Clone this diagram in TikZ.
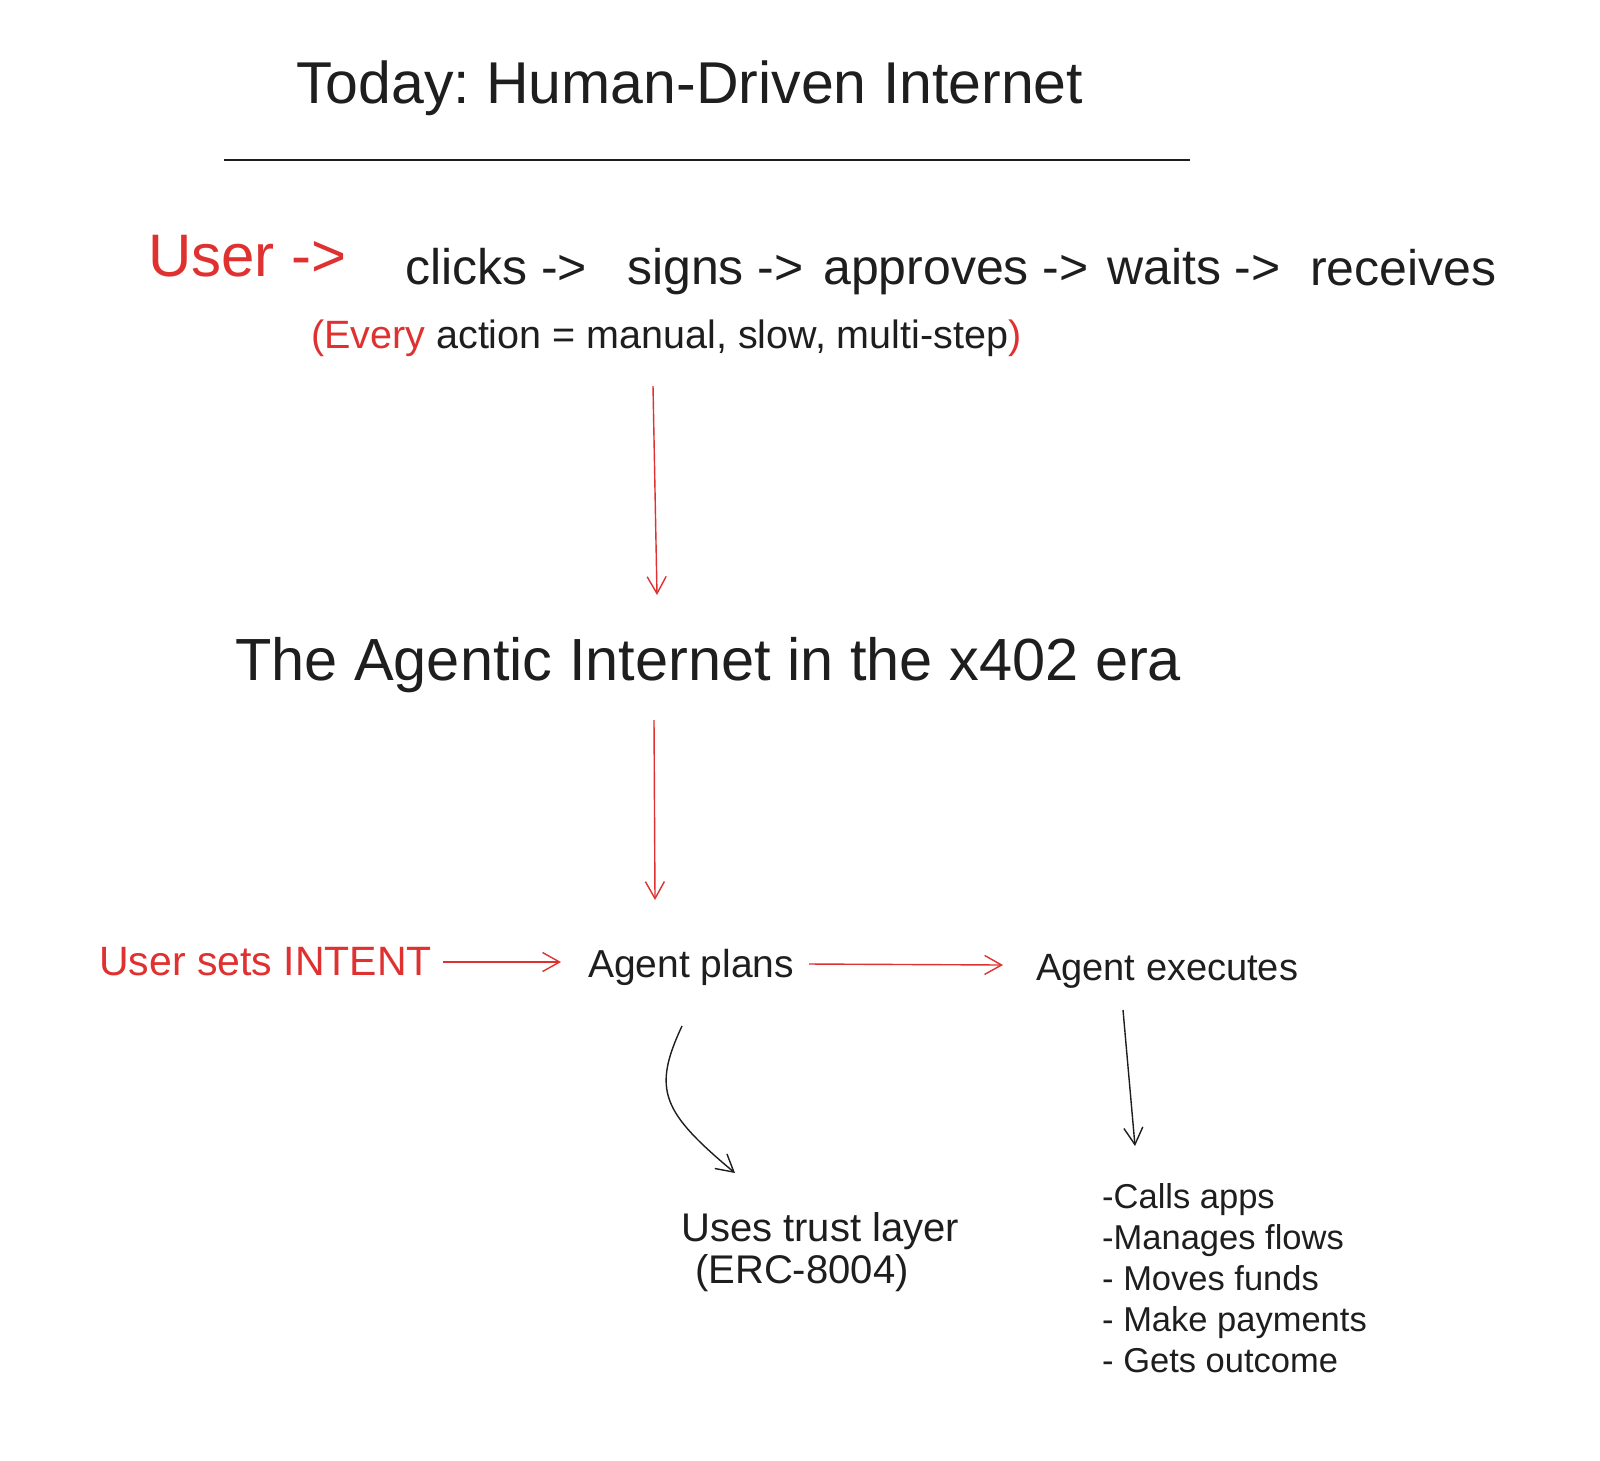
\documentclass[tikz,border=0pt]{standalone}
\usepackage{fontspec}
\setmainfont{Liberation Sans}
\usetikzlibrary{arrows.meta}
\definecolor{exred}{HTML}{E03131}
\definecolor{exink}{HTML}{1E1E1E}
\frenchspacing
\tikzset{
  txt/.style={inner sep=0pt, anchor=base west, text=exink},
  redtxt/.style={txt, text=exred},
  headtip/.style={-{Straight Barb[length=17pt,width=19pt,line width=1.4pt]}},
  redarrow/.style={draw=exred, line width=1.4pt, headtip},
  inkarrow/.style={draw=exink, line width=1.4pt, headtip},
  listtxt/.style={txt, font=\fontsize{34.5}{41}\selectfont},
  trusttxt/.style={txt, font=\fontsize{40}{43}\selectfont},
}
\newcommand{\fsz}[1]{\fontsize{#1}{#1}\selectfont}
\begin{document}
\begin{tikzpicture}[x=1pt,y=-1pt]
\useasboundingbox[fill=white] (0,0) rectangle (1600,1460);

% title and rule
\node[txt] (title) at (296,103) {\fsz{59}Today: Human-Driven Internet};
\coordinate (ruleL) at (224,160);
\coordinate (ruleR) at (1190,160);
\draw[exink, line width=1.2pt] (ruleL) -- (ruleR);

% today row
\node[redtxt] (user) at (148,276) {\fsz{60}User ->};
\node[txt] (clicks) at (405,284) {\fsz{50}clicks ->};
\node[txt] (signs) at (627,284) {\fsz{50}signs ->};
\node[txt] (approves) at (823,284) {\fsz{50}approves ->};
\node[txt] (waits) at (1107,284) {\fsz{50}waits ->};
\node[txt] (receives) at (1310,285) {\fsz{50}receives};
\node[txt] (every) at (311,348) {\fsz{39.5}{\color{exred}(Every} action = manual, slow, multi-step{\color{exred})}};

% arrow 1
\coordinate (a1s) at (653,386);
\coordinate (a1e) at (657,595);
\draw[redarrow] (a1s) -- (a1e);

% agentic title
\node[txt] (agentic) at (235,680) {\fsz{59.5}The Agentic Internet in the x402 era};

% arrow 2
\coordinate (a2s) at (654,720);
\coordinate (a2e) at (655,900);
\draw[redarrow] (a2s) -- (a2e);

% agentic row
\node[redtxt] (intent) at (99,975) {\fsz{41}User sets INTENT};
\node[txt] (plans) at (588,977) {\fsz{39}Agent plans};
\node[txt] (executes) at (1036,980) {\fsz{38}Agent executes};
\coordinate (i1) at (443,962);
\coordinate (i2) at (561,962);
\draw[redarrow] (i1) -- (i2);
\coordinate (p1) at (809,964);
\coordinate (p2) at (1003,965);
\draw[redarrow] (p1) -- (p2);

% lower
\coordinate (c1) at (682,1026);
\coordinate (c2) at (735,1173);
\draw[inkarrow] (c1) .. controls (652,1090) and (662,1112) .. (c2);
\coordinate (d1) at (1123,1010);
\coordinate (d2) at (1135,1146);
\draw[inkarrow] (d1) -- (d2);

\node[trusttxt] (trust1) at (681,1241) {Uses trust layer};
\node[trusttxt] (trust2) at (695,1283) {(ERC-8004)};

\node[listtxt] (l1) at (1102,1208) {-Calls apps};
\node[listtxt] (l2) at (1102,1249) {-Manages flows};
\node[listtxt] (l3) at (1102,1290) {- Moves funds};
\node[listtxt] (l4) at (1102,1331) {- Make payments};
\node[listtxt] (l5) at (1102,1372) {- Gets outcome};
\end{tikzpicture}
\end{document}
